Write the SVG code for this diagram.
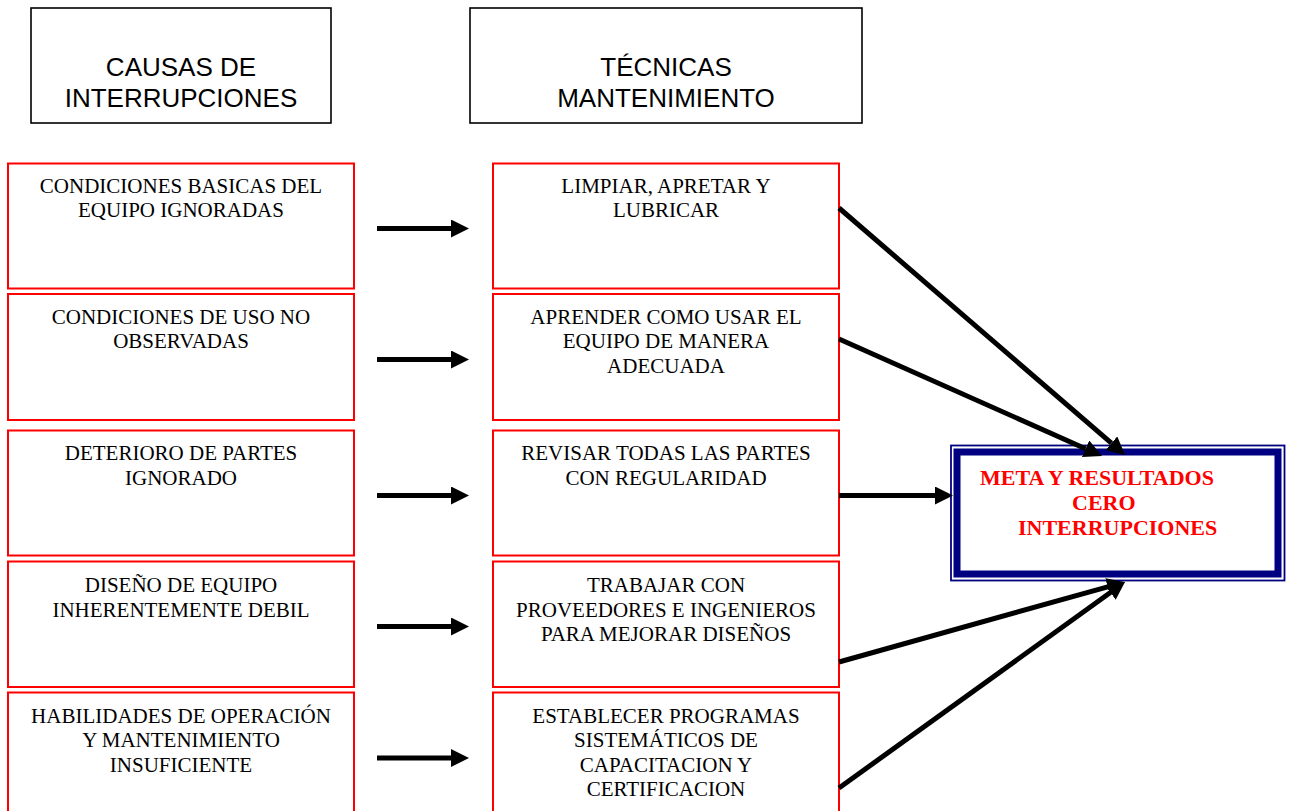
<svg xmlns="http://www.w3.org/2000/svg" width="1291" height="811" viewBox="0 0 1291 811">
<style>
.hdr{fill:#fff;stroke:#000;stroke-width:1.6}
.hdrt{font-family:"Liberation Sans",Arial,sans-serif;font-size:26px;fill:#000;text-anchor:middle}
.box{fill:#fff;stroke:#ff0000;stroke-width:2}
.bt{font-family:"Liberation Serif","Times New Roman",serif;font-size:21px;fill:#000;text-anchor:middle}
.mt{font-family:"Liberation Serif","Times New Roman",serif;font-size:22px;font-weight:bold;fill:#ff0000}
.con{stroke:#000;stroke-width:5;fill:none;marker-end:url(#ah)}
</style>
<defs>
<marker id="ah" markerUnits="userSpaceOnUse" markerWidth="18" markerHeight="18" viewBox="0 0 18 18" refX="0" refY="9" orient="auto">
<path d="M0,0 L18,9 L0,18 Z" fill="#000"/>
</marker>
</defs>
<rect width="1291" height="811" fill="#fff"/>
<g id="hdr-causas">
<rect class="hdr" x="31" y="8" width="300" height="115"/>
<text class="hdrt" x="181" y="76">CAUSAS DE</text>
<text class="hdrt" x="181" y="107">INTERRUPCIONES</text>
</g>
<g id="hdr-tecnicas">
<rect class="hdr" x="470" y="8" width="392" height="115"/>
<text class="hdrt" x="666" y="76">TÉCNICAS</text>
<text class="hdrt" x="666" y="107">MANTENIMIENTO</text>
</g>
<g id="causa1">
<rect class="box" x="8" y="163.5" width="346" height="125"/>
<text class="bt" x="181" y="192.5">CONDICIONES BASICAS DEL</text>
<text class="bt" x="181" y="217">EQUIPO IGNORADAS</text>
</g>
<g id="causa2">
<rect class="box" x="8" y="294" width="346" height="126"/>
<text class="bt" x="181" y="323.5">CONDICIONES DE USO NO</text>
<text class="bt" x="181" y="348">OBSERVADAS</text>
</g>
<g id="causa3">
<rect class="box" x="8" y="430.5" width="346" height="125"/>
<text class="bt" x="181" y="460">DETERIORO DE PARTES</text>
<text class="bt" x="181" y="484.5">IGNORADO</text>
</g>
<g id="causa4">
<rect class="box" x="8" y="561.5" width="346" height="125.5"/>
<text class="bt" x="181" y="592">DISEÑO DE EQUIPO</text>
<text class="bt" x="181" y="616.5">INHERENTEMENTE DEBIL</text>
</g>
<g id="causa5">
<rect class="box" x="8" y="692.5" width="346" height="140"/>
<text class="bt" x="181" y="722.5">HABILIDADES DE OPERACIÓN</text>
<text class="bt" x="181" y="747">Y MANTENIMIENTO</text>
<text class="bt" x="181" y="771.5">INSUFICIENTE</text>
</g>
<g id="tec1">
<rect class="box" x="493" y="163.5" width="346" height="125"/>
<text class="bt" x="666" y="192.5">LIMPIAR, APRETAR Y</text>
<text class="bt" x="666" y="217">LUBRICAR</text>
</g>
<g id="tec2">
<rect class="box" x="493" y="294" width="346" height="126"/>
<text class="bt" x="666" y="323.5">APRENDER COMO USAR EL</text>
<text class="bt" x="666" y="348">EQUIPO DE MANERA</text>
<text class="bt" x="666" y="372.5">ADECUADA</text>
</g>
<g id="tec3">
<rect class="box" x="493" y="430.5" width="346" height="125"/>
<text class="bt" x="666" y="460">REVISAR TODAS LAS PARTES</text>
<text class="bt" x="666" y="484.5">CON REGULARIDAD</text>
</g>
<g id="tec4">
<rect class="box" x="493" y="561.5" width="346" height="125.5"/>
<text class="bt" x="666" y="592">TRABAJAR CON</text>
<text class="bt" x="666" y="616.5">PROVEEDORES E INGENIEROS</text>
<text class="bt" x="666" y="641">PARA MEJORAR DISEÑOS</text>
</g>
<g id="tec5">
<rect class="box" x="493" y="692.5" width="346" height="140"/>
<text class="bt" x="666" y="722.5">ESTABLECER PROGRAMAS</text>
<text class="bt" x="666" y="747">SISTEMÁTICOS DE</text>
<text class="bt" x="666" y="771.5">CAPACITACION Y</text>
<text class="bt" x="666" y="796">CERTIFICACION</text>
</g>
<g id="meta">
<rect x="951" y="445.5" width="333.5" height="135" fill="#fff" stroke="#000080" stroke-width="1.8"/>
<rect x="957" y="452" width="321" height="122" fill="#fff" stroke="#000080" stroke-width="7"/>
<text class="mt" x="980" y="485">META Y RESULTADOS</text>
<text class="mt" x="1072" y="510">CERO</text>
<text class="mt" x="1018" y="535">INTERRUPCIONES</text>
</g>
<g id="connectors">
<line class="con" x1="377" y1="228.5" x2="451" y2="228.5"/>
<line class="con" x1="377" y1="359.5" x2="451" y2="359.5"/>
<line class="con" x1="377" y1="495.5" x2="451" y2="495.5"/>
<line class="con" x1="377" y1="626.5" x2="451" y2="626.5"/>
<line class="con" x1="377" y1="758" x2="451" y2="758"/>
<line class="con" x1="839" y1="208" x2="1111.4" y2="443.2"/>
<line class="con" x1="839" y1="339" x2="1085.6" y2="448.7"/>
<line class="con" x1="839" y1="495.5" x2="935" y2="495.5"/>
<line class="con" x1="839" y1="662" x2="1107.7" y2="586.8"/>
<line class="con" x1="839" y1="788" x2="1110.4" y2="592.5"/>
</g>
</svg>
